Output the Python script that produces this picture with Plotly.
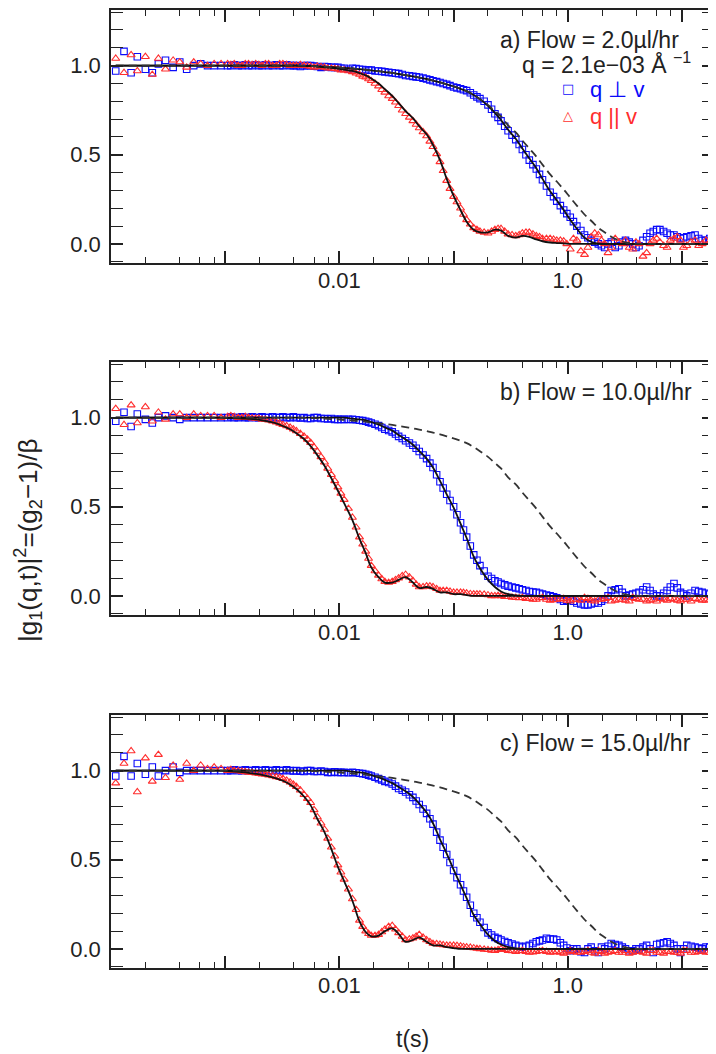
import plotly.graph_objects as go

# ---------------- data ----------------
t = [1.1e-4, 1.3e-4, 1.5e-4, 1.7e-4, 2.0e-4, 2.3e-4, 2.6e-4, 3.0e-4, 3.5e-4, 4.0e-4,
     4.6e-4, 5.3e-4, 6.1e-4, 7.0e-4, 8.0e-4, 9.2e-4, 1.05e-3, 1.2e-3, 1.4e-3, 1.6e-3,
     1.85e-3, 2.1e-3, 2.4e-3, 2.8e-3, 3.2e-3, 3.7e-3, 4.2e-3, 4.9e-3, 5.6e-3, 6.4e-3,
     7.4e-3, 8.5e-3, 9.7e-3, 0.011, 0.013, 0.015, 0.017, 0.019, 0.022, 0.025,
     0.029, 0.033, 0.038, 0.044, 0.050, 0.058, 0.066, 0.076, 0.087, 0.100,
     0.115, 0.13, 0.15, 0.17, 0.20, 0.23, 0.26, 0.30, 0.35, 0.40,
     0.46, 0.53, 0.60, 0.70, 0.80, 0.92, 1.05, 1.2, 1.4, 1.6,
     1.85, 2.1, 2.4, 2.8, 3.2, 3.7, 4.2, 4.9, 5.6, 6.4,
     7.4, 8.5, 9.7, 11.0, 13.0, 15.0, 17.5]

# second set of measured delays (between the first ones) for the data points
t2 = [1.12e-3, 1.3e-3, 1.5e-3, 1.72e-3, 1.97e-3, 2.25e-3, 2.6e-3, 3.0e-3, 3.45e-3, 3.95e-3,
      4.55e-3, 5.25e-3, 6.0e-3, 6.9e-3, 7.9e-3, 9.1e-3, 0.0103, 0.012, 0.014, 0.016,
      0.018, 0.0205, 0.0235, 0.027, 0.031, 0.0355, 0.041, 0.047, 0.054, 0.062,
      0.071, 0.081, 0.093, 0.107, 0.122, 0.14, 0.16, 0.185, 0.215, 0.245,
      0.28, 0.325, 0.375, 0.43, 0.495, 0.565, 0.65, 0.75, 0.86, 0.98,
      1.12, 1.3, 1.5, 1.72, 1.97, 2.25, 2.6, 3.0, 3.45, 3.95,
      4.55, 5.25, 6.0, 6.9, 7.9, 9.1, 10.3, 12.0, 14.0, 16.2]

# panel a) flow = 2.0 ul/hr
par_a = [1.04, 0.96, 1.06, 0.97, 1.05, 0.95, 1.04, 0.98, 1.03, 1.02,
         0.99, 1.02, 1.01, 1.00, 1.01, 1.01, 1.01, 1.01, 1.00, 1.01,
         1.01, 1.00, 1.01, 1.00, 1.01, 1.00, 1.00, 1.00, 0.995, 0.995,
         0.99, 0.985, 0.98, 0.975, 0.965, 0.95, 0.935, 0.915, 0.885, 0.85,
         0.815, 0.775, 0.73, 0.69, 0.65, 0.605, 0.545, 0.46, 0.355, 0.265,
         0.20, 0.135, 0.09, 0.07, 0.06, 0.08, 0.085, 0.055, 0.045, 0.06,
         0.065, 0.045, 0.03, 0.03, 0.02, 0.015, -0.03, 0.02, -0.06, 0.04,
         0.05, 0.00, -0.02, 0.01, 0.02, -0.03, 0.00, -0.05, 0.02, 0.01,
         -0.02, 0.03, 0.02, -0.01, 0.02, 0.00, 0.01]
par_a2 = [1.005, 1.0, 1.01, 1.005, 1.005, 1.01, 1.0, 1.01, 1.005, 1.0,
          1.005, 0.998, 0.99, 0.993, 0.985, 0.983, 0.975, 0.97, 0.957, 0.94,
          0.925, 0.90, 0.865, 0.83, 0.795, 0.75, 0.71, 0.67, 0.628, 0.575,
          0.505, 0.41, 0.31, 0.235, 0.165, 0.11, 0.08, 0.065, 0.07, 0.085,
          0.07, 0.05, 0.05, 0.065, 0.055, 0.04, 0.03, 0.025, 0.02, 0.0,
          0.03, -0.04, -0.02, 0.06, 0.02, -0.05, 0.03, 0.0, -0.02, 0.01,
          -0.07, 0.0, 0.03, -0.01, 0.02, 0.04, -0.02, 0.01, -0.01, 0.02]
par_a_fit = [1.0, 1.0, 1.0, 1.0, 1.0, 1.0, 1.0, 1.0, 1.0, 1.0,
             1.0, 1.0, 1.0, 1.0, 1.0, 1.0, 1.0, 1.0, 1.0, 1.0,
             1.0, 1.0, 1.0, 1.0, 1.0, 1.0, 1.0, 0.998, 0.997, 0.995,
             0.99, 0.988, 0.983, 0.978, 0.97, 0.958, 0.945, 0.928, 0.90, 0.868,
             0.83, 0.79, 0.745, 0.705, 0.66, 0.615, 0.555, 0.47, 0.365, 0.27,
             0.19, 0.125, 0.08, 0.065, 0.065, 0.08, 0.075, 0.045, 0.035, 0.045,
             0.04, 0.025, 0.015, 0.008, 0.005, 0.003, 0.0, 0.0, 0.0, 0.0,
             0.0, 0.0, 0.0, 0.0, 0.0, 0.0, 0.0, 0.0, 0.0, 0.0,
             0.0, 0.0, 0.0, 0.0, 0.0, 0.0, 0.0]
perp_a = [0.97, 1.08, 0.96, 1.05, 0.98, 0.96, 1.01, 1.03, 0.99, 1.02,
          0.98, 1.00, 1.01, 1.00, 1.00, 1.00, 1.00, 1.005, 1.00, 1.00,
          1.005, 1.00, 1.00, 1.005, 1.00, 1.00, 1.00, 1.00, 1.00, 0.995,
          0.995, 0.99, 0.99, 0.985, 0.985, 0.98, 0.975, 0.975, 0.97, 0.965,
          0.96, 0.955, 0.945, 0.94, 0.935, 0.925, 0.915, 0.905, 0.895, 0.88,
          0.87, 0.86, 0.835, 0.815, 0.78, 0.73, 0.69, 0.635, 0.585, 0.53,
          0.47, 0.42, 0.36, 0.29, 0.24, 0.19, 0.15, 0.10, 0.05, 0.02,
          0.00, -0.02, 0.01, -0.01, 0.02, 0.00, -0.01, 0.04, 0.07, 0.08,
          0.06, 0.05, 0.03, 0.04, 0.05, 0.02, 0.03]
perp_a2 = [1.0, 1.0, 1.005, 1.0, 1.0, 1.005, 1.0, 1.0, 1.005, 1.0,
           0.995, 1.0, 0.997, 0.99, 0.993, 0.99, 0.985, 0.98, 0.983, 0.978,
           0.975, 0.97, 0.968, 0.962, 0.957, 0.95, 0.943, 0.937, 0.93, 0.92,
           0.91, 0.90, 0.888, 0.875, 0.865, 0.848, 0.825, 0.80, 0.755, 0.71,
           0.66, 0.61, 0.558, 0.50, 0.445, 0.39, 0.325, 0.265, 0.215, 0.17,
           0.125, 0.075, 0.035, 0.01, -0.01, 0.0, -0.02, 0.01, 0.01, -0.02,
           0.02, 0.06, 0.08, 0.07, 0.05, 0.04, 0.035, 0.045, 0.03, 0.02]
perp_a_fit = [1.0, 1.0, 1.0, 1.0, 1.0, 1.0, 1.0, 1.0, 1.0, 1.0,
              1.0, 1.0, 1.0, 1.0, 1.0, 1.0, 1.0, 1.0, 1.0, 1.0,
              1.0, 1.0, 1.0, 1.0, 1.0, 1.0, 1.0, 0.999, 0.998, 0.996,
              0.994, 0.992, 0.99, 0.987, 0.984, 0.98, 0.977, 0.973, 0.969, 0.964,
              0.959, 0.953, 0.947, 0.94, 0.933, 0.925, 0.916, 0.906, 0.895, 0.883,
              0.87, 0.857, 0.835, 0.812, 0.775, 0.735, 0.695, 0.64, 0.59, 0.535,
              0.48, 0.425, 0.365, 0.295, 0.245, 0.19, 0.135, 0.085, 0.035, 0.012,
              0.002, 0.0, 0.0, 0.0, 0.0, 0.0, 0.0, 0.0, 0.0, 0.0,
              0.0, 0.0, 0.0, 0.0, 0.0, 0.0, 0.0]

# dashed reference curve (same in all panels)
dashed = [1.0, 1.0, 1.0, 1.0, 1.0, 1.0, 1.0, 1.0, 1.0, 1.0,
          1.0, 1.0, 1.0, 1.0, 1.0, 1.0, 1.0, 1.0, 1.0, 1.0,
          1.0, 1.0, 1.0, 1.0, 1.0, 1.0, 1.0, 0.999, 0.998, 0.996,
          0.994, 0.992, 0.99, 0.987, 0.984, 0.98, 0.977, 0.973, 0.969, 0.964,
          0.959, 0.953, 0.947, 0.94, 0.933, 0.925, 0.916, 0.906, 0.895, 0.883,
          0.87, 0.857, 0.835, 0.812, 0.78, 0.745, 0.715, 0.665, 0.625, 0.58,
          0.535, 0.49, 0.445, 0.39, 0.35, 0.305, 0.26, 0.215, 0.165, 0.13,
          0.09, 0.065, 0.04, 0.02, 0.008, 0.002, 0.0, 0.0, 0.0, 0.0,
          0.0, 0.0, 0.0, 0.0, 0.0, 0.0, 0.0]

# panel b) flow = 10.0 ul/hr
par_b = [1.05, 0.96, 1.07, 0.97, 1.06, 0.98, 1.03, 0.99, 1.02, 1.02,
         1.00, 1.02, 1.01, 1.01, 1.01, 1.00, 1.005, 1.005, 1.00, 1.00,
         0.995, 0.99, 0.985, 0.975, 0.96, 0.945, 0.925, 0.895, 0.86, 0.81,
         0.75, 0.68, 0.61, 0.54, 0.44, 0.33, 0.25, 0.17, 0.115, 0.08,
         0.08, 0.10, 0.12, 0.085, 0.05, 0.055, 0.05, 0.03, 0.03, 0.02,
         0.02, 0.015, 0.01, 0.01, 0.005, 0.00, 0.00, -0.005, -0.01, -0.01,
         -0.015, -0.02, -0.01, -0.025, -0.02, -0.015, -0.03, -0.02, -0.01, -0.025,
         -0.02, -0.015, -0.03, -0.02, -0.025, -0.01, -0.02, -0.03, -0.02, -0.015,
         -0.025, -0.02, -0.03, -0.02, -0.015, -0.025, -0.02]
par_b2 = [1.01, 1.0, 1.005, 0.997, 0.995, 0.988, 0.98, 0.968, 0.953, 0.935,
          0.91, 0.878, 0.835, 0.78, 0.715, 0.645, 0.575, 0.49, 0.385, 0.29,
          0.21, 0.14, 0.095, 0.075, 0.09, 0.112, 0.105, 0.065, 0.05, 0.055,
          0.04, 0.03, 0.025, 0.02, 0.018, 0.012, 0.01, 0.008, 0.0, 0.002,
          -0.005, -0.008, -0.012, -0.015, -0.02, -0.012, -0.02, -0.022, -0.018, -0.025,
          -0.02, -0.025, -0.015, -0.03, -0.02, -0.01, -0.025, -0.02, -0.03, -0.015,
          -0.02, -0.025, -0.03, -0.02, -0.015, -0.025, -0.02, -0.03, -0.02, -0.025]
par_b_fit = [1.0, 1.0, 1.0, 1.0, 1.0, 1.0, 1.0, 1.0, 1.0, 1.0,
             1.0, 1.0, 1.0, 1.0, 1.0, 1.0, 0.998, 0.997, 0.995, 0.993,
             0.99, 0.985, 0.978, 0.968, 0.953, 0.935, 0.913, 0.88, 0.84, 0.79,
             0.73, 0.66, 0.59, 0.52, 0.425, 0.32, 0.24, 0.16, 0.105, 0.075,
             0.075, 0.09, 0.105, 0.075, 0.045, 0.05, 0.04, 0.02, 0.02, 0.01,
             0.01, 0.005, 0.0, 0.0, 0.0, 0.0, 0.0, 0.0, 0.0, 0.0,
             0.0, 0.0, 0.0, 0.0, 0.0, 0.0, 0.0, 0.0, 0.0, 0.0,
             0.0, 0.0, 0.0, 0.0, 0.0, 0.0, 0.0, 0.0, 0.0, 0.0,
             0.0, 0.0, 0.0, 0.0, 0.0, 0.0, 0.0]
perp_b = [0.98, 1.03, 0.95, 1.02, 0.99, 0.97, 1.00, 1.01, 1.00, 0.99,
          1.00, 1.00, 1.00, 1.00, 1.00, 1.00, 1.00, 1.00, 1.005, 1.00,
          1.00, 1.005, 1.00, 1.00, 1.005, 1.00, 1.00, 1.00, 0.995, 1.00,
          0.995, 0.995, 0.99, 0.99, 0.99, 0.985, 0.98, 0.97, 0.955, 0.935,
          0.92, 0.895, 0.87, 0.845, 0.81, 0.77, 0.72, 0.64, 0.57, 0.50,
          0.41, 0.33, 0.23, 0.17, 0.11, 0.085, 0.07, 0.055, 0.045, 0.035,
          0.025, 0.02, 0.01, 0.00, -0.01, -0.03, -0.02, -0.04, -0.05, -0.045,
          -0.04, -0.02, 0.03, 0.04, 0.00, 0.01, 0.02, 0.05, 0.01, 0.00,
          0.03, 0.07, 0.02, 0.00, 0.03, 0.02, 0.01]
perp_b2 = [1.005, 1.0, 1.0, 1.005, 1.0, 1.0, 1.005, 1.0, 1.0, 1.005,
           0.998, 0.995, 1.0, 0.995, 0.993, 0.99, 0.99, 0.99, 0.988, 0.983,
           0.975, 0.963, 0.945, 0.928, 0.908, 0.883, 0.858, 0.828, 0.79, 0.745,
           0.68, 0.605, 0.535, 0.455, 0.37, 0.28, 0.20, 0.14, 0.098, 0.078,
           0.062, 0.05, 0.04, 0.03, 0.022, 0.015, 0.005, -0.005, -0.02, -0.025,
           -0.03, -0.045, -0.05, -0.04, -0.03, 0.0, 0.035, 0.02, 0.005, 0.015,
           0.035, 0.03, 0.0, 0.015, 0.05, 0.045, 0.01, 0.015, 0.025, 0.015]
perp_b_fit = [1.0, 1.0, 1.0, 1.0, 1.0, 1.0, 1.0, 1.0, 1.0, 1.0,
              1.0, 1.0, 1.0, 1.0, 1.0, 1.0, 1.0, 1.0, 1.0, 1.0,
              1.0, 1.0, 1.0, 1.0, 1.0, 1.0, 1.0, 1.0, 1.0, 1.0,
              1.0, 1.0, 1.0, 1.0, 0.995, 0.99, 0.985, 0.975, 0.962, 0.945,
              0.927, 0.903, 0.877, 0.848, 0.812, 0.77, 0.72, 0.645, 0.57, 0.495,
              0.405, 0.325, 0.22, 0.155, 0.09, 0.05, 0.025, 0.01, 0.003, 0.0,
              0.0, 0.0, 0.0, 0.0, 0.0, 0.0, 0.0, 0.0, 0.0, 0.0,
              0.0, 0.0, 0.0, 0.0, 0.0, 0.0, 0.0, 0.0, 0.0, 0.0,
              0.0, 0.0, 0.0, 0.0, 0.0, 0.0, 0.0]

# panel c) flow = 15.0 ul/hr
par_c = [0.93, 1.04, 1.11, 0.88, 1.07, 0.94, 1.09, 0.96, 1.03, 0.95,
         1.04, 1.00, 1.03, 1.01, 1.02, 1.01, 1.00, 1.00, 0.995, 0.99,
         0.985, 0.98, 0.975, 0.965, 0.955, 0.935, 0.91, 0.865, 0.82, 0.74,
         0.67, 0.57, 0.47, 0.39, 0.28, 0.16, 0.10, 0.075, 0.08, 0.11,
         0.13, 0.09, 0.05, 0.06, 0.08, 0.05, 0.03, 0.025, 0.02, 0.02,
         0.015, 0.01, 0.005, 0.00, -0.005, -0.01, 0.00, -0.01, -0.015, -0.01,
         -0.02, -0.015, -0.01, -0.02, -0.015, -0.025, -0.01, -0.02, -0.015, -0.02,
         -0.01, -0.025, -0.015, -0.02, -0.01, -0.02, -0.015, -0.025, -0.01, -0.02,
         -0.015, -0.02, -0.025, -0.01, -0.02, -0.015, -0.02]
par_c2 = [1.005, 0.998, 0.993, 0.988, 0.983, 0.978, 0.97, 0.96, 0.945, 0.923,
          0.89, 0.843, 0.78, 0.705, 0.62, 0.52, 0.43, 0.335, 0.22, 0.125,
          0.085, 0.075, 0.095, 0.125, 0.11, 0.07, 0.055, 0.07, 0.065, 0.04,
          0.028, 0.022, 0.02, 0.018, 0.012, 0.008, 0.002, -0.003, -0.008, -0.005,
          -0.005, -0.012, -0.012, -0.015, -0.018, -0.012, -0.015, -0.018, -0.02, -0.018,
          -0.015, -0.02, -0.01, -0.025, -0.015, -0.02, -0.01, -0.02, -0.025, -0.015,
          -0.02, -0.01, -0.02, -0.025, -0.015, -0.02, -0.01, -0.02, -0.015, -0.02]
par_c_fit = [1.0, 1.0, 1.0, 1.0, 1.0, 1.0, 1.0, 1.0, 1.0, 1.0,
             1.0, 1.0, 1.0, 1.0, 1.0, 1.0, 0.997, 0.995, 0.992, 0.988,
             0.982, 0.976, 0.968, 0.957, 0.943, 0.922, 0.897, 0.855, 0.805, 0.73,
             0.655, 0.56, 0.46, 0.38, 0.27, 0.155, 0.095, 0.07, 0.075, 0.10,
             0.115, 0.085, 0.04, 0.05, 0.065, 0.04, 0.02, 0.02, 0.01, 0.005,
             0.0, 0.0, 0.0, 0.0, 0.0, 0.0, 0.0, 0.0, 0.0, 0.0,
             0.0, 0.0, 0.0, 0.0, 0.0, 0.0, 0.0, 0.0, 0.0, 0.0,
             0.0, 0.0, 0.0, 0.0, 0.0, 0.0, 0.0, 0.0, 0.0, 0.0,
             0.0, 0.0, 0.0, 0.0, 0.0, 0.0, 0.0]
perp_c = [0.97, 1.08, 0.97, 1.04, 0.98, 1.02, 0.97, 1.00, 1.02, 0.99,
          1.00, 1.00, 1.00, 1.00, 1.00, 1.00, 1.00, 1.005, 1.00, 1.00,
          1.005, 1.00, 1.00, 1.005, 1.00, 1.00, 1.00, 0.995, 1.00, 0.995,
          0.995, 0.99, 0.99, 0.99, 0.99, 0.985, 0.98, 0.97, 0.955, 0.94,
          0.925, 0.90, 0.88, 0.85, 0.81, 0.76, 0.70, 0.61, 0.53, 0.44,
          0.36, 0.29, 0.20, 0.15, 0.09, 0.065, 0.05, 0.035, 0.02, 0.01,
          0.02, 0.04, 0.05, 0.055, 0.05, 0.02, -0.01, 0.00, -0.02, 0.01,
          -0.02, 0.00, 0.03, 0.02, 0.00, -0.01, 0.00, 0.02, -0.02, 0.03,
          0.04, 0.02, -0.02, 0.02, 0.01, 0.00, 0.01]
perp_c2 = [1.0, 1.0, 1.005, 1.0, 1.0, 1.005, 1.0, 1.0, 1.005, 0.998,
           0.997, 1.0, 0.995, 0.997, 0.99, 0.993, 0.99, 0.988, 0.988, 0.983,
           0.975, 0.963, 0.948, 0.933, 0.913, 0.89, 0.865, 0.83, 0.785, 0.73,
           0.655, 0.57, 0.485, 0.40, 0.325, 0.245, 0.175, 0.12, 0.078, 0.058,
           0.042, 0.028, 0.015, 0.015, 0.03, 0.045, 0.06, 0.055, 0.035, 0.005,
           0.0, -0.015, 0.0, -0.01, 0.01, 0.015, 0.025, 0.01, -0.01, 0.0,
           0.01, 0.0, 0.025, 0.035, 0.03, 0.0, 0.0, 0.015, 0.005, 0.01]
perp_c_fit = [1.0, 1.0, 1.0, 1.0, 1.0, 1.0, 1.0, 1.0, 1.0, 1.0,
              1.0, 1.0, 1.0, 1.0, 1.0, 1.0, 1.0, 1.0, 1.0, 1.0,
              1.0, 1.0, 1.0, 1.0, 1.0, 1.0, 1.0, 1.0, 1.0, 1.0,
              1.0, 1.0, 1.0, 1.0, 0.995, 0.99, 0.985, 0.975, 0.962, 0.948,
              0.93, 0.908, 0.884, 0.853, 0.815, 0.765, 0.705, 0.615, 0.535, 0.445,
              0.36, 0.285, 0.19, 0.14, 0.08, 0.045, 0.025, 0.01, 0.003, 0.0,
              0.0, 0.0, 0.0, 0.0, 0.0, 0.0, 0.0, 0.0, 0.0, 0.0,
              0.0, 0.0, 0.0, 0.0, 0.0, 0.0, 0.0, 0.0, 0.0, 0.0,
              0.0, 0.0, 0.0, 0.0, 0.0, 0.0, 0.0]

panel_labels = ["a) Flow = 2.0µl/hr", "b) Flow = 10.0µl/hr", "c) Flow = 15.0µl/hr"]
q_label = "q = 2.1e−03 Å <sup>−1</sup>"
legend_perp = "q ⊥ v"
legend_par = "q || v"
y_title = "|g<sub>1</sub>(q,t)|<sup>2</sup>=(g<sub>2</sub>−1)/β"
x_title = "t(s)"
x_label_vals = [1e-2, 1]
x_label_text = ["0.01", "1.0"]
x_major_unlabeled = [1e-4, 1e-3, 1e-1, 10]
x_minor = [2e-4, 4e-4, 6e-4, 8e-4, 2e-3, 4e-3, 6e-3, 8e-3, 2e-2, 4e-2, 6e-2, 8e-2,
           0.2, 0.4, 0.6, 0.8, 2, 4, 6, 8]
y_tickvals = [0.0, 0.5, 1.0]
y_ticktext = ["0.0", "0.5", "1.0"]
y_minor = [-0.1, 0.1, 0.2, 0.3, 0.4, 0.6, 0.7, 0.8, 0.9, 1.1, 1.2, 1.3]

# ---------------- figure ----------------
OFF = 8                      # page body margin of the html page
W, H = 716 - OFF, 1054 - OFF
ML, MR = 111 - OFF, 2
PW = W - ML - MR
FONT = "Liberation Sans, Arial, Helvetica, sans-serif"
INK = "#222222"
BLUE = "rgb(10,10,250)"
RED = "rgb(255,45,45)"


def px(x):   # reference window pixel -> paper fraction
    return (x - OFF - ML) / PW


def py(y):
    return 1 - (y - OFF) / H


panel_px = [(10, 263), (362, 615), (715, 968)]
series = [(perp_a, par_a, perp_a2, par_a2, perp_a_fit, par_a_fit),
          (perp_b, par_b, perp_b2, par_b2, perp_b_fit, par_b_fit),
          (perp_c, par_c, perp_c2, par_c2, perp_c_fit, par_c_fit)]

fig = go.Figure()
layout = dict(
    width=W, height=H,
    margin=dict(l=ML, r=MR, t=0, b=0),
    paper_bgcolor="white", plot_bgcolor="white",
    showlegend=False,
    font=dict(family=FONT, size=22, color=INK),
)

blue_marker = dict(symbol="square-open", size=6.5, color=BLUE, line=dict(width=1.1, color=BLUE))
red_marker = dict(symbol="triangle-up-open", size=7, color=RED, line=dict(width=1.1, color=RED))

for i, (perp, par, perp2, par2, pfit, rfit) in enumerate(series):
    sfx = "" if i == 0 else str(i + 1)
    xa, ya = "x" + sfx, "y" + sfx
    xo = "x" + str(i + 4)
    for tt, yy in ((t, perp), (t2, perp2)):
        fig.add_trace(go.Scatter(x=tt, y=yy, mode="markers", xaxis=xa, yaxis=ya,
                                 marker=blue_marker))
    for tt, yy in ((t, par), (t2, par2)):
        fig.add_trace(go.Scatter(x=tt, y=yy, mode="markers", xaxis=xa, yaxis=ya,
                                 marker=red_marker))
    for yy in (pfit, rfit):
        fig.add_trace(go.Scatter(x=t, y=yy, mode="lines", xaxis=xa, yaxis=ya,
                                 line=dict(color="#111111", width=1.8, shape="spline")))
    fig.add_trace(go.Scatter(x=t, y=dashed, mode="lines", xaxis=xa, yaxis=ya,
                             line=dict(color="#333333", width=1.8, dash="8px,5px",
                                       shape="spline")))
    # empty trace so the overlay axis (long unlabeled decade ticks) is drawn
    fig.add_trace(go.Scatter(x=[], y=[], mode="markers", xaxis=xo, yaxis=ya,
                             hoverinfo="skip"))

    top, bot = panel_px[i]
    common = dict(ticks="inside", tickcolor=INK, tickwidth=1.5, showgrid=False,
                  zeroline=False, tickfont=dict(family=FONT, size=22, color=INK))
    layout["xaxis" + sfx] = dict(
        type="log", range=[-4, 1.28], domain=[0, 1], anchor=ya,
        showline=True, linecolor=INK, linewidth=1.5, mirror="allticks",
        tickmode="array", tickvals=x_label_vals, ticktext=x_label_text, ticklen=12,
        ticklabelstandoff=-3,
        minor=dict(tickmode="array", tickvals=x_minor, ticks="inside", ticklen=6,
                   tickcolor=INK, tickwidth=1.2, showgrid=False),
        **common)
    layout["xaxis" + str(i + 4)] = dict(
        type="log", range=[-4, 1.28], domain=[0, 1], anchor=ya, overlaying=xa,
        showline=False, mirror="allticks", showticklabels=False,
        tickmode="array", tickvals=x_major_unlabeled, ticklen=12,
        **common)
    layout["yaxis" + sfx] = dict(
        range=[-0.107, 1.312], domain=[py(bot), py(top)], anchor=xa,
        showline=True, linecolor=INK, linewidth=1.5, mirror="allticks",
        tickmode="array", tickvals=y_tickvals, ticktext=y_ticktext, ticklen=12,
        ticklabelstandoff=4,
        minor=dict(tickmode="array", tickvals=y_minor, ticks="inside", ticklen=7,
                   tickcolor=INK, tickwidth=1.2, showgrid=False),
        **common)

ann_font = dict(family=FONT, size=23, color=INK)
annotations = [
    dict(x=px(498), y=py(40), text=panel_labels[0], xanchor="left", yanchor="middle",
         font=ann_font),
    dict(x=px(693), y=py(63), text=q_label, xanchor="right", yanchor="middle",
         font=ann_font),
    dict(x=px(568), y=py(89), text="□", xanchor="center", yanchor="middle",
         font=dict(family="DejaVu Sans", size=13, color=BLUE)),
    dict(x=px(588), y=py(90), text=legend_perp, xanchor="left", yanchor="middle",
         font=dict(family=FONT, size=22, color=BLUE)),
    dict(x=px(568), y=py(116), text="△", xanchor="center", yanchor="middle",
         font=dict(family="DejaVu Sans", size=13, color=RED)),
    dict(x=px(588), y=py(117), text=legend_par, xanchor="left", yanchor="middle",
         font=dict(family=FONT, size=22, color=RED)),
    dict(x=px(498), y=py(392), text=panel_labels[1], xanchor="left", yanchor="middle",
         font=ann_font),
    dict(x=px(498), y=py(743), text=panel_labels[2], xanchor="left", yanchor="middle",
         font=ann_font),
    dict(x=px(28), y=py(540), text=y_title, textangle=-90,
         xanchor="center", yanchor="middle", borderpad=0,
         font=dict(family=FONT, size=26, color=INK)),
    dict(x=px(412), y=py(1039), text=x_title, xanchor="center", yanchor="middle",
         font=dict(family=FONT, size=23, color=INK)),
]
for a in annotations:
    a.update(xref="paper", yref="paper", showarrow=False)
layout["annotations"] = annotations

fig.update_layout(**layout)
fig.write_html("out.html")
